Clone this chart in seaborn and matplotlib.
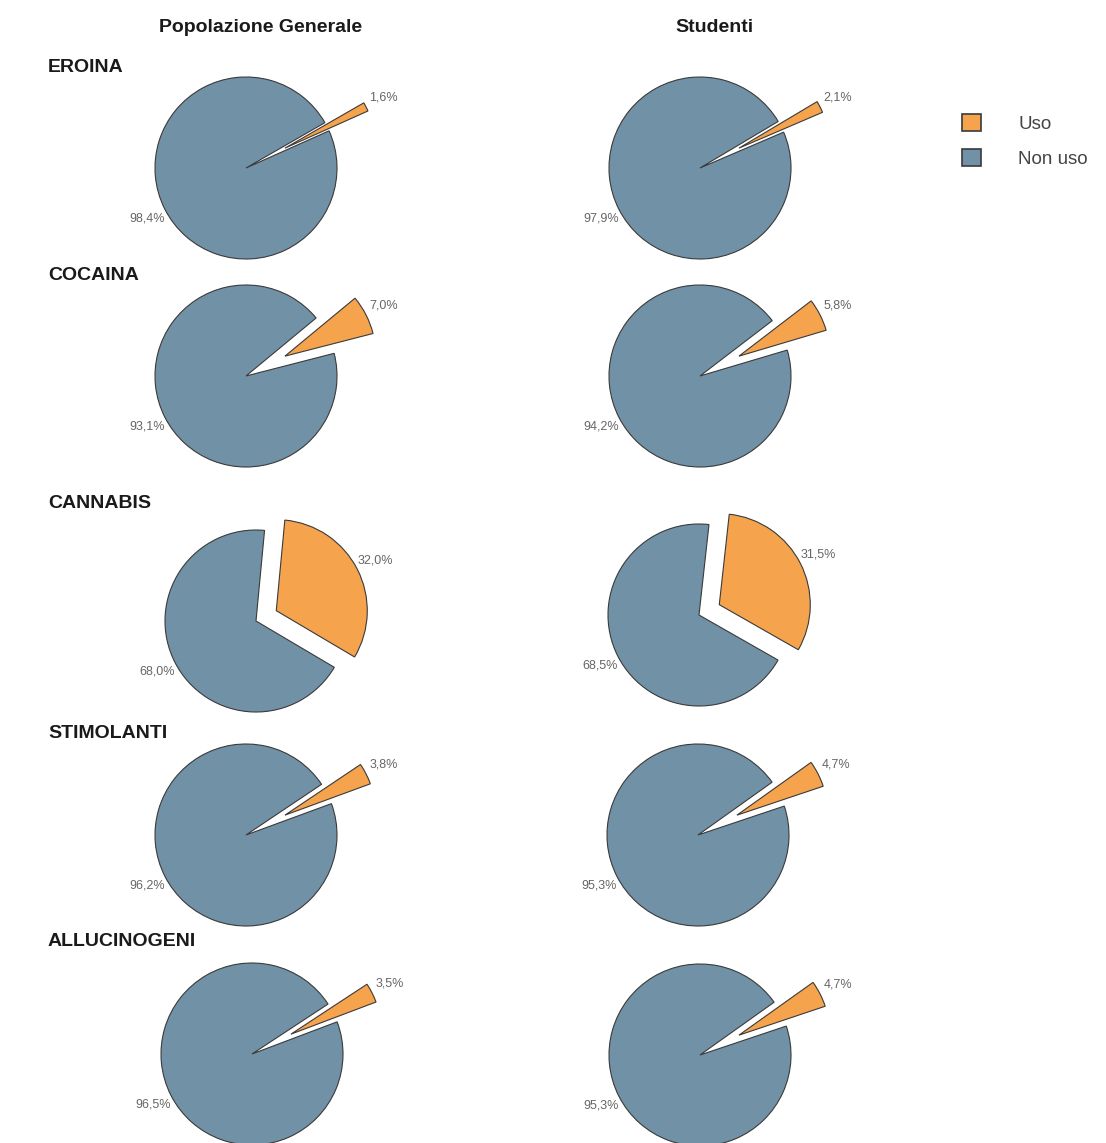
import matplotlib
matplotlib.use("Agg")
import matplotlib.pyplot as plt
from matplotlib.patches import Patch
import seaborn as sns

sns.set_theme(style="white")
plt.rcParams['font.family'] = ['Liberation Sans', 'DejaVu Sans']

# Data (percentages)
substances = ['EROINA', 'COCAINA', 'CANNABIS', 'STIMOLANTI', 'ALLUCINOGENI']
groups = ['Popolazione Generale', 'Studenti']
uso_generale = [1.6, 7.0, 32.0, 3.8, 3.5]
non_uso_generale = [98.4, 93.1, 68.0, 96.2, 96.5]
uso_studenti = [2.1, 5.8, 31.5, 4.7, 4.7]
non_uso_studenti = [97.9, 94.2, 68.5, 95.3, 95.3]
legend_labels = ['Uso', 'Non uso']

orange = '#F5A34C'
blue = '#7191A6'
edge = '#3a3a3a'

W, H = 1106, 1143
R = 91  # pie radius in pixels
# pie centres in pixels, per row: (generale, studenti)
centres = [((246, 168), (700, 168)),
           ((246, 376), (700, 376)),
           ((256, 621), (699, 615)),
           ((246, 835), (698, 835)),
           ((252, 1054), (700, 1055))]
row_label_y = [67, 276, 503, 733, 942]
header_x = [261, 714]


def fmt(v):
    return f"{v:.1f}".replace('.', ',') + '%'


fig = plt.figure(figsize=(W / 100, H / 100), dpi=100)

bw, bh = 360, 230
for i, name in enumerate(substances):
    pairs = [(uso_generale[i], non_uso_generale[i]),
             (uso_studenti[i], non_uso_studenti[i])]
    for j, (uso, non) in enumerate(pairs):
        cx, cy = centres[i][j]
        ax = fig.add_axes([(cx - bw / 2) / W, 1 - (cy + bh / 2) / H, bw / W, bh / H])
        explode = 0.25 if uso > 20 else 0.48
        wedges, texts = ax.pie(
            [uso, non],
            explode=[explode, 0],
            colors=[orange, blue],
            startangle=27 + uso * 1.8,
            counterclock=False,
            labels=[fmt(uso), fmt(non)],
            labeldistance=1.22,
            wedgeprops=dict(edgecolor=edge, linewidth=0.8),
            textprops=dict(fontsize=9, color='#666666'),
        )
        for t in texts:
            t.set_horizontalalignment('center')
        ax.set_xlim(-bw / 2 / R, bw / 2 / R)
        ax.set_ylim(-bh / 2 / R, bh / 2 / R)
        ax.set_aspect('equal')
        ax.axis('off')

    fig.text(48 / W, 1 - row_label_y[i] / H, name, fontsize=14, fontweight='bold',
             ha='left', va='center', color='#1a1a1a')

for x, g in zip(header_x, groups):
    fig.text(x / W, 1 - 27 / H, g, fontsize=14, fontweight='bold',
             ha='center', va='center', color='#1a1a1a')

handles = [Patch(facecolor=orange, edgecolor=edge, linewidth=1.2),
           Patch(facecolor=blue, edgecolor=edge, linewidth=1.2)]
leg = fig.legend(handles, legend_labels, loc='upper left',
                 bbox_to_anchor=(962 / W, 1 - 114 / H), frameon=False,
                 fontsize=13.5, handlelength=1.0, handleheight=1.0,
                 handletextpad=2.0, labelspacing=0.85, borderpad=0, borderaxespad=0)
for t in leg.get_texts():
    t.set_color('#444444')

fig.savefig('out.png', dpi=100, facecolor='white')
